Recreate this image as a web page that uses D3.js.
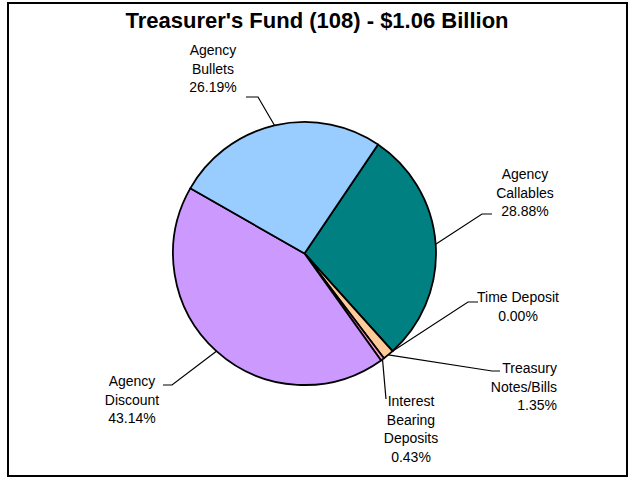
<!DOCTYPE html>
<html>
<head>
<meta charset="utf-8">
<script src="https://cdn.jsdelivr.net/npm/d3@7"></script>
<style>
  body { margin: 0; background: #fff; }
  svg text { font-family: Arial, "Liberation Sans", sans-serif; fill: #000; }
</style>
</head>
<body>
<svg id="chart" width="632" height="478"></svg>
<script>
// slices, clockwise from the Callables edge
var categories = ['Agency Callables', 'Time Deposit', 'Treasury Notes/Bills',
                  'Interest Bearing Deposits', 'Agency Discount', 'Agency Bullets'];
var shares = [28.88, 0.00, 1.35, 0.43, 43.14, 26.19];
var labelLines = [
  ['Agency', 'Callables', '28.88%'],
  ['Time Deposit', '0.00%'],
  ['Treasury', 'Notes/Bills', '1.35%'],
  ['Interest', 'Bearing', 'Deposits', '0.43%'],
  ['Agency', 'Discount', '43.14%'],
  ['Agency', 'Bullets', '26.19%']
];
var colors = ['#008080', '#9999ff', '#ffcc99', '#ff99cc', '#cc99ff', '#99ccff'];

// label layout: text position, anchor and leader bend points
var labelLayout = [
  {x: 525, y: 179, anchor: 'middle', bend: [482, 214], end: [492, 214]},
  {x: 518, y: 302, anchor: 'middle', bend: [468, 302], end: [478, 302]},
  {x: 557, y: 373, anchor: 'end', bend: [492, 371], end: [500, 371]},
  {x: 411, y: 406, anchor: 'middle', bend: [386, 399], end: [386, 399]},
  {x: 132, y: 386, anchor: 'middle', bend: [172, 385], end: [163, 385]},
  {x: 213, y: 55, anchor: 'middle', bend: [258, 97], end: [246, 97]}
];

var svg = d3.select('#chart');
var cx = 304.5, cy = 253.5, r = 131.5;
var lineH = 18.5;

// frame
svg.append('rect')
  .attr('x', 8).attr('y', 3)
  .attr('width', 619).attr('height', 473)
  .attr('fill', '#fff')
  .attr('stroke', '#000')
  .attr('stroke-width', 2);

svg.append('text')
  .attr('x', 317).attr('y', 28)
  .attr('text-anchor', 'middle')
  .style('font-size', '22px')
  .style('font-weight', 'bold')
  .text("Treasurer's Fund (108) - $1.06 Billion");

var pie = d3.pie()
  .sort(null)
  .value(d => d)
  .startAngle(34 * Math.PI / 180)
  .endAngle(34 * Math.PI / 180 + 2 * Math.PI);

var arcs = pie(shares);
var arc = d3.arc().innerRadius(0).outerRadius(r);
var edgeArc = d3.arc().innerRadius(r).outerRadius(r);

var g = svg.append('g').attr('transform', 'translate(' + cx + ',' + cy + ')');

g.selectAll('.slice')
  .data(arcs)
  .enter()
  .append('path')
  .attr('class', 'slice')
  .attr('d', arc)
  .attr('fill', (d, i) => colors[i])
  .attr('stroke', '#000')
  .attr('stroke-width', 1.8)
  .attr('stroke-linejoin', 'round');

// leader lines
svg.selectAll('.leader')
  .data(arcs)
  .enter()
  .append('polyline')
  .attr('class', 'leader')
  .attr('points', (d, i) => {
    var p = edgeArc.centroid(d);
    var L = labelLayout[i];
    return [[p[0] + cx, p[1] + cy], L.bend, L.end].map(q => q.join(',')).join(' ');
  })
  .attr('fill', 'none')
  .attr('stroke', '#000')
  .attr('stroke-width', 1.2);

// labels
var labels = svg.selectAll('.label')
  .data(labelLines)
  .enter()
  .append('text')
  .attr('class', 'label')
  .attr('text-anchor', (d, i) => labelLayout[i].anchor)
  .style('font-size', '14px');

labels.each(function(lines, i) {
  var L = labelLayout[i];
  d3.select(this).selectAll('tspan')
    .data(lines)
    .enter()
    .append('tspan')
    .attr('x', L.x)
    .attr('y', (t, k) => L.y + k * lineH)
    .text(t => t);
});
</script>
</body>
</html>
